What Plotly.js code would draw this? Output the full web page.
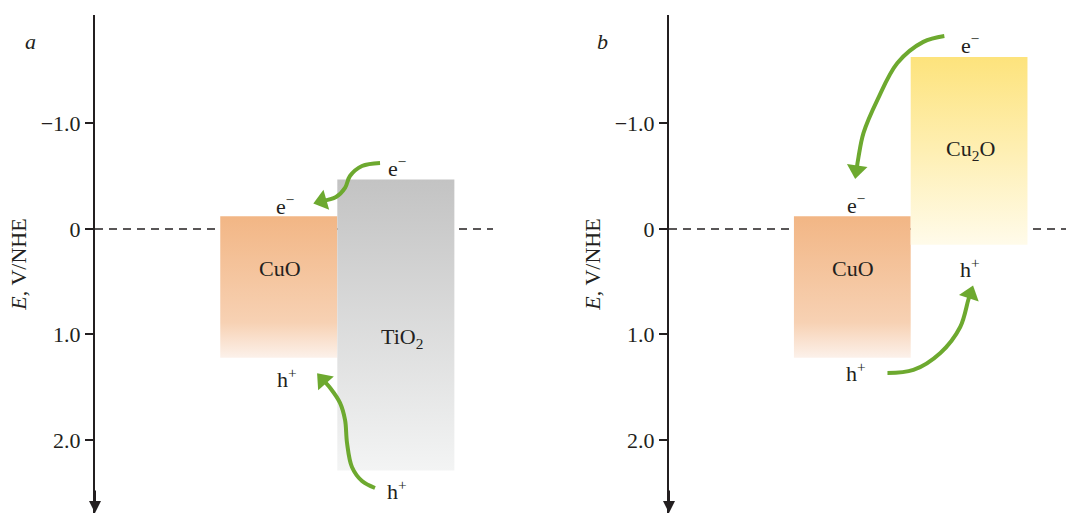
<!DOCTYPE html>
<html>
<head>
<meta charset="utf-8">
<script src="https://cdn.plot.ly/plotly-3.0.1.min.js"></script>
<style>html,body{margin:0;padding:0;background:#fff;}#chart{width:1066px;height:515px;}</style>
</head>
<body>
<div id="chart"></div>
<script>
// ---- data (energies in V vs NHE; top = conduction band, bottom = valence band)
const materialsA = ['CuO', 'TiO<sub>2</sub>'];
const cbA = [-0.12, -0.47];
const vbA = [1.22, 2.29];
const materialsB = ['CuO', 'Cu<sub>2</sub>O'];
const cbB = [-0.12, -1.63];
const vbB = [1.22, 0.15];
const tickVals = [-1, 0, 1, 2];
const tickText = ['\u22121.0', '0', '1.0', '2.0'];
const topColors = ['#F2B685', '#C3C3C3', '#FDE37C'];
const bottomColors = ['#FCF1EA', '#F3F4F4', '#FFFBEA'];
// curved charge-transfer arrows (decorative paths, in axis units)
const arrowA1x = [0.865, 0.711, 0.608, 0.566, 0.489, 0.369];
const arrowA1y = [-0.626, -0.597, -0.502, -0.389, -0.303, -0.265];
const arrowA2x = [0.822, 0.711, 0.625, 0.583, 0.566, 0.523, 0.446, 0.378];
const arrowA2y = [2.455, 2.389, 2.256, 2.028, 1.810, 1.649, 1.517, 1.431];
const arrowB1x = [0.788, 0.608, 0.386, 0.215, 0.096, 0.053, 0.036];
const arrowB1y = [-1.829, -1.773, -1.573, -1.223, -0.910, -0.682, -0.559];
const arrowB2x = [0.301, 0.523, 0.754, 0.924, 0.993, 1.010];
const arrowB2y = [1.365, 1.336, 1.175, 0.929, 0.673, 0.616];

const FONT = 'Liberation Serif, Times New Roman, serif';
const INK = '#231f20';
const GREEN = '#6DA92F';
const FS = 22;
const yRange = [2.692, -2.028];
const xRange = [-1.57, 1.83];

function boxTraces(cb, vb, colorIdx, xa, ya) {
  return cb.map((c, i) => {
    const v = vb[i];
    const ci = colorIdx[i];
    return {
      type: 'scatter', mode: 'lines', xaxis: xa, yaxis: ya,
      x: [i - 0.5, i + 0.5, i + 0.5, i - 0.5, i - 0.5],
      y: [c, c, v, v, c],
      fill: 'toself',
      line: {width: 0, color: 'rgba(0,0,0,0)'},
      fillgradient: {
        type: 'vertical',
        start: c, stop: v,
        colorscale: ci === 0
          ? [[0, topColors[0]], [0.75, '#F7D1B3'], [1, bottomColors[0]]]
          : [[0, topColors[ci]], [1, bottomColors[ci]]]
      },
      hoverinfo: 'skip', showlegend: false
    };
  });
}

function arrowTrace(xs, ys, xa, ya) {
  const sizes = xs.map((_, i) => i === xs.length - 1 ? 18 : 0);
  return {
    type: 'scatter', mode: 'lines+markers', xaxis: xa, yaxis: ya,
    x: xs, y: ys,
    line: {color: GREEN, width: 4, shape: 'spline'},
    marker: {symbol: 'triangle-up', size: sizes, color: GREEN, opacity: 1, angleref: 'previous', line: {width: 0}},
    cliponaxis: false, hoverinfo: 'skip', showlegend: false
  };
}

const traces = [
  ...boxTraces(cbA, vbA, [0, 1], 'x', 'y'),
  ...boxTraces(cbB, vbB, [0, 2], 'x2', 'y2'),
  arrowTrace(arrowA1x, arrowA1y, 'x', 'y'),
  arrowTrace(arrowA2x, arrowA2y, 'x', 'y'),
  arrowTrace(arrowB1x, arrowB1y, 'x2', 'y2'),
  arrowTrace(arrowB2x, arrowB2y, 'x2', 'y2')
];

function yAxis(anchor) {
  return {
    anchor: anchor, range: yRange, domain: [0, 1],
    showline: true, linewidth: 2, linecolor: INK,
    ticks: 'outside', ticklen: 8, tickwidth: 2, tickcolor: INK,
    tickvals: tickVals, ticktext: tickText,
    tickfont: {family: FONT, size: FS, color: INK},
    showgrid: false, zeroline: false,
    title: {text: '<i>E</i>, V/NHE', font: {family: FONT, size: FS, color: INK}, standoff: 8}
  };
}
function xAxis(domain, anchor) {
  return {domain: domain, anchor: anchor, range: xRange, visible: false, showgrid: false, zeroline: false};
}

const ann = [];
function label(text, x, y, xr, yr) {
  ann.push({text: text, x: x, y: y, xref: xr, yref: yr, showarrow: false,
    font: {family: FONT, size: FS, color: INK}, xanchor: 'center', yanchor: 'middle'});
}
// panel a labels
label(materialsA[0], 0.01, 0.37, 'x', 'y');
label(materialsA[1], 1.05, 1.03, 'x', 'y');
label('e<sup>\u2212</sup>', 0.05, cbA[0] - 0.11, 'x', 'y');
label('e<sup>\u2212</sup>', 1.01, cbA[1] - 0.12, 'x', 'y');
label('h<sup>+</sup>', 0.07, vbA[0] + 0.19, 'x', 'y');
label('h<sup>+</sup>', 1.01, vbA[1] + 0.18, 'x', 'y');
// panel b labels
label(materialsB[0], 0.01, 0.37, 'x2', 'y2');
label(materialsB[1], 1.01, -0.75, 'x2', 'y2');
label('e<sup>\u2212</sup>', 0.03, cbB[0] - 0.12, 'x2', 'y2');
label('e<sup>\u2212</sup>', 1.01, cbB[1] - 0.12, 'x2', 'y2');
label('h<sup>+</sup>', 1.01, vbB[1] + 0.22, 'x2', 'y2');
label('h<sup>+</sup>', 0.03, vbB[0] + 0.14, 'x2', 'y2');
// panel letters
ann.push({text: '<i>a</i>', x: 30 / 1066, y: 1 - 27 / 515, xref: 'paper', yref: 'paper', showarrow: false,
  font: {family: FONT, size: FS, color: INK}, xanchor: 'center', yanchor: 'middle'});
ann.push({text: '<i>b</i>', x: 602 / 1066, y: 1 - 27 / 515, xref: 'paper', yref: 'paper', showarrow: false,
  font: {family: FONT, size: FS, color: INK}, xanchor: 'center', yanchor: 'middle'});
// axis arrowheads
['x', 'x2'].forEach((xr, k) => {
  ann.push({text: '', x: xRange[0], y: yRange[0], xref: xr, yref: k ? 'y2' : 'y',
    showarrow: true, ax: 0, ay: -24, axref: 'pixel', ayref: 'pixel',
    arrowhead: 2, arrowsize: 1.2, arrowwidth: 2, arrowcolor: INK, standoff: 0});
});

const shapes = [
  {type: 'line', xref: 'x', yref: 'y', x0: xRange[0], x1: xRange[1], y0: 0, y1: 0, layer: 'below',
    line: {color: INK, width: 1.5, dash: '8px,6px'}},
  {type: 'line', xref: 'x2', yref: 'y2', x0: xRange[0], x1: xRange[1], y0: 0, y1: 0, layer: 'below',
    line: {color: INK, width: 1.5, dash: '8px,6px'}}
];

const layout = {
  width: 1066, height: 515,
  margin: {l: 0, r: 0, t: 15, b: 2},
  paper_bgcolor: '#fff', plot_bgcolor: 'rgba(0,0,0,0)',
  xaxis: xAxis([95 / 1066, 493 / 1066], 'y'),
  yaxis: yAxis('x'),
  xaxis2: xAxis([669 / 1066, 1], 'y2'),
  yaxis2: yAxis('x2'),
  annotations: ann,
  shapes: shapes,
  showlegend: false
};

Plotly.newPlot('chart', traces, layout, {displayModeBar: false, staticPlot: true});
</script>
</body>
</html>
